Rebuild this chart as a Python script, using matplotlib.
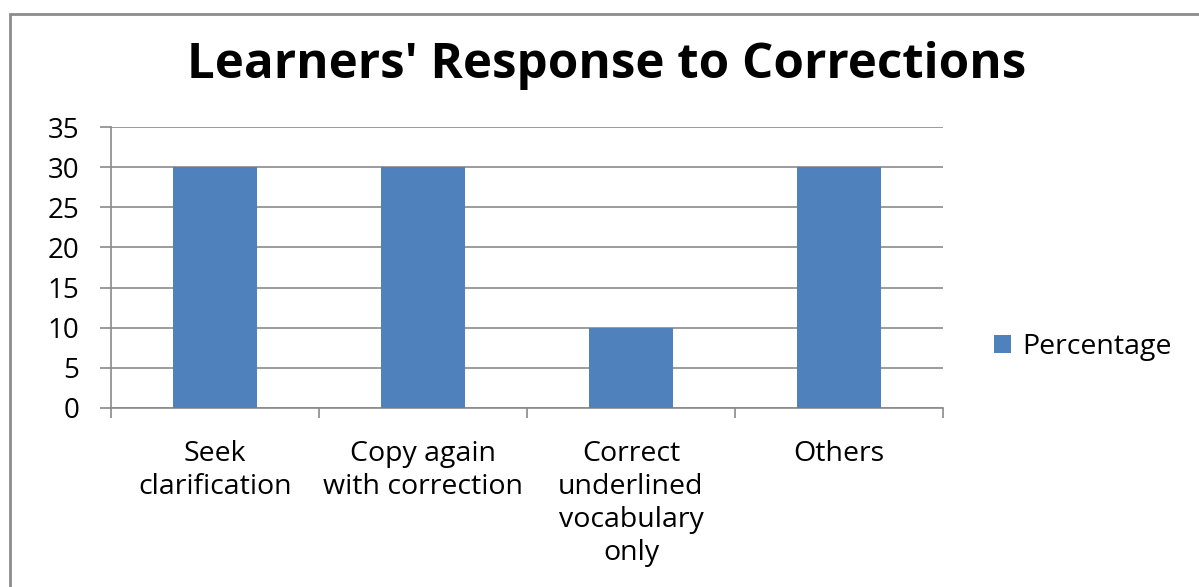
import matplotlib
matplotlib.use("Agg")
import matplotlib.pyplot as plt
from matplotlib.patches import Rectangle, Patch

categories = ["Seek\nclarification", "Copy again\nwith correction",
              "Correct\nunderlined\nvocabulary\nonly", "Others"]
values = [30, 30, 10, 30]
series_name = "Percentage"
title = "Learners' Response to Corrections"
yticks = [0, 5, 10, 15, 20, 25, 30, 35]

W, H = 1199, 587
fig = plt.figure(figsize=(W / 100, H / 100), dpi=100)
plt.rcParams['font.family'] = ['Open Sans', 'DejaVu Sans']

# outer chart frame
fig.patches.append(Rectangle((10 / W, -0.1), 1.2, 1 - 14 / H + 0.1,
                             transform=fig.transFigure, fill=False,
                             edgecolor="#8c8c8c", linewidth=2))

ax = fig.add_axes([111 / W, 1 - 408 / H, 832 / W, 281 / H])
bar_color = "#4F81BD"
x = list(range(len(categories)))
ax.bar(x, values, width=0.4, color=bar_color, zorder=3)
ax.set_xlim(-0.5, len(categories) - 0.5)
ax.set_ylim(0, 35)
ax.set_yticks(yticks)
ax.set_yticklabels([str(v) for v in yticks], fontsize=20)
ax.yaxis.grid(True, color="#8a8a8a", linewidth=1.2, zorder=0)
ax.set_axisbelow(True)

for s in ["top", "right"]:
    ax.spines[s].set_visible(False)
for s in ["left", "bottom"]:
    ax.spines[s].set_color("#8a8a8a")
    ax.spines[s].set_linewidth(1.2)

ax.tick_params(axis="y", length=8, width=1.2, color="#8a8a8a", pad=15)
ax.set_xticks([i - 0.5 for i in range(len(categories) + 1)])
ax.set_xticklabels([])
ax.tick_params(axis="x", length=7, width=1.2, color="#8a8a8a")
for i, c in enumerate(categories):
    ax.text(i, -4.0, c, ha="center", va="top", fontsize=20.5,
            linespacing=1.24, transform=ax.transData)

fig.text(607 / W, 1 - 65 / H, title, ha="center", va="center",
         fontsize=35.5, fontweight="bold")

handles = [Patch(facecolor=bar_color, edgecolor="none")]
fig.legend(handles, [series_name], loc="center left",
           bbox_to_anchor=(994 / W, 1 - 347 / H), frameon=False,
           fontsize=20.5, handlelength=0.6, handleheight=0.6,
           handletextpad=0.4, borderaxespad=0, borderpad=0)

fig.savefig("out.png", dpi=100)
